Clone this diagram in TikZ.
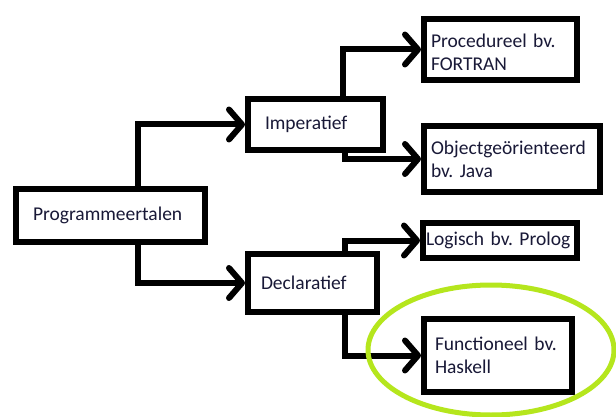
\documentclass[tikz,border=0pt]{standalone}
\usepackage{fontspec}
\setmainfont{Carlito}
\frenchspacing
\usetikzlibrary{arrows.meta}
\definecolor{inkblue}{RGB}{25,25,55}
\definecolor{marker}{RGB}{181,230,29}
\tikzset{
  box/.style={draw=black, line width=6pt, rectangle, anchor=north west,
    align=left, inner ysep=0pt, text=inkblue,
    font=\fontsize{19.5}{23}\selectfont},
  link/.style={draw=black, line width=6pt,
    -{Straight Barb[length=13pt, width=30pt, round]}},
}
\begin{document}
\begin{tikzpicture}[x=1pt, y=-1pt]
  % canvas
  \fill[white] (0,0) rectangle (616,417);
  \path[use as bounding box] (0,0) rectangle (616,417);

  % boxes
  \node[box, minimum width=189pt, minimum height=53pt, inner xsep=17pt, text width=155pt]
    (prog) at (13,186) {\mbox{Programmeertalen}};
  \node[box, minimum width=135pt, minimum height=51pt, inner xsep=17pt, text width=101pt]
    (imp) at (245,96) {\mbox{Imperatief}};
  \node[box, minimum width=129pt, minimum height=58pt, inner xsep=13pt, text width=103pt]
    (dec) at (245,251) {\mbox{Declaratief}};
  \node[box, minimum width=153pt, minimum height=61pt, inner xsep=7pt, text width=139pt]
    (proc) at (421,16) {\rule{0pt}{18.5pt}\mbox{Procedureel bv.}\\\mbox{FORTRAN}};
  \node[box, minimum width=176pt, minimum height=66pt, inner xsep=7pt, text width=162pt]
    (obj) at (421,123) {\mbox{Objectgeörienteerd}\\\mbox{bv. Java}};
  \node[box, minimum width=154pt, minimum height=35pt, inner xsep=3pt, text width=148pt]
    (log) at (420,220) {\mbox{Logisch bv. Prolog}};
  \node[box, minimum width=148pt, minimum height=73pt, inner xsep=11pt, text width=126pt]
    (func) at (421,316) {\mbox{Functioneel bv.}\\\mbox{Haskell}};

  % connectors
  \draw[link] ([xshift=125pt]prog.north west) |- (imp.west);
  \draw[link] ([xshift=125pt]prog.south west) |- (dec.west);
  \draw[link] ([xshift=98pt]imp.north west) |- (proc.west);
  \draw[link] ([xshift=100pt]imp.south west) |- (obj.west);
  \draw[link] ([xshift=100pt]dec.north west) |- (log.west);
  \draw[link] ([xshift=100pt]dec.south west) |- (func.west);

  % highlight round the functional languages
  \draw[marker, line width=5pt] (491,350) ellipse [x radius=123pt, y radius=65pt];
\end{tikzpicture}
\end{document}
